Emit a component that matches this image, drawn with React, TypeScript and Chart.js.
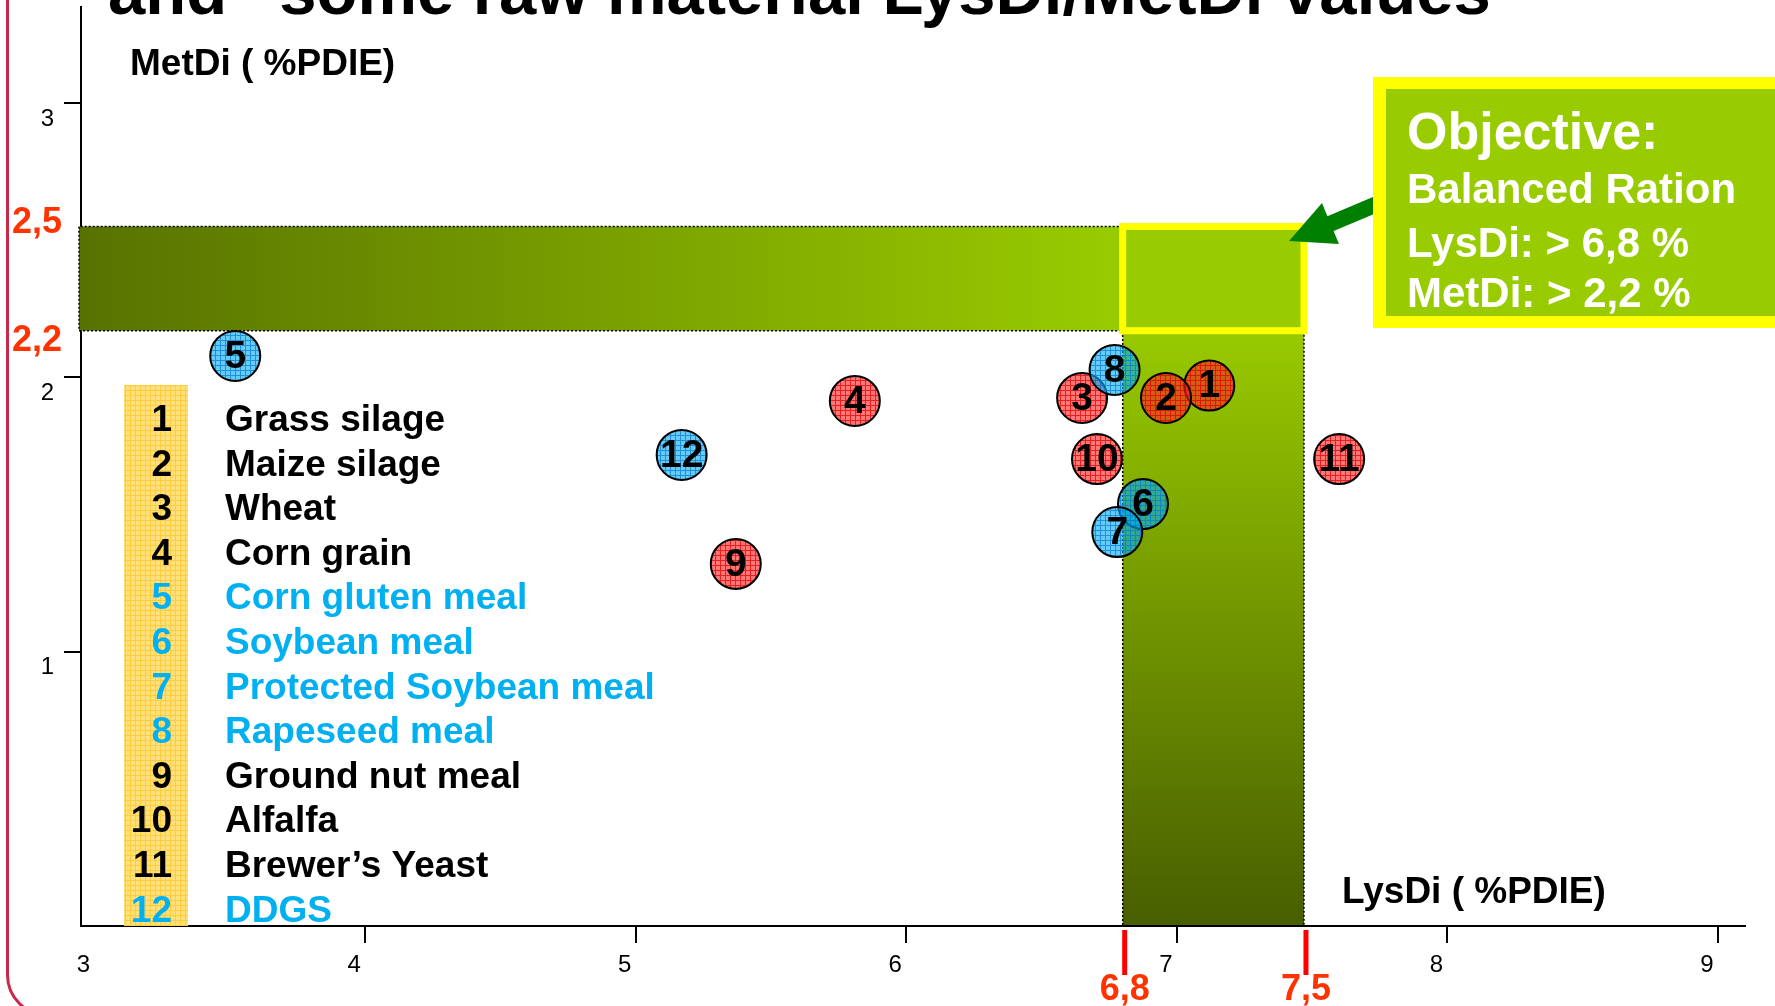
import React, { useEffect, useRef } from 'react';
import { Chart, registerables } from 'chart.js';

Chart.register(...registerables);

// ---------- data ----------
const feedIds = ['1', '2', '3', '4', '5', '6', '7', '8', '9', '10', '11', '12'];
const feedNames = [
  'Grass silage',
  'Maize silage',
  'Wheat',
  'Corn grain',
  'Corn gluten meal',
  'Soybean meal',
  'Protected Soybean meal',
  'Rapeseed meal',
  'Ground nut meal',
  'Alfalfa',
  'Brewer\u2019s Yeast',
  'DDGS',
];
const lysDi = [7.12, 6.96, 6.65, 5.81, 3.52, 6.875, 6.78, 6.77, 5.37, 6.705, 7.6, 5.17];
const metDi = [1.97, 1.925, 1.925, 1.914, 2.078, 1.538, 1.436, 2.027, 1.32, 1.702, 1.702, 1.717];
const feedGroup = ['red', 'red', 'red', 'red', 'blue', 'blue', 'blue', 'blue', 'red', 'red', 'red', 'blue'];

const xTicks = [3, 4, 5, 6, 7, 8, 9];
const yTicks = [1, 2, 3];

// objective zone (as drawn)
const lysBand = [6.8, 7.47];
const metBand = [2.17, 2.55];
const lysBandLabels = ['6,8', '7,5'];
const metBandLabels = ['2,2', '2,5'];

const titleText = 'and \u201Csome raw material LysDi/MetDi values';
const yTitle = 'MetDi ( %PDIE)';
const xTitle = 'LysDi ( %PDIE)';
const objectiveLines = ['Objective:', 'Balanced Ration', 'LysDi: > 6,8 %', 'MetDi: > 2,2 %'];

const FONT = '"Liberation Sans", Arial, Helvetica, sans-serif';
const BLUE_TEXT = '#00b0f0';

function makePattern(ctx: CanvasRenderingContext2D, fill: string, line: string, size = 5) {
  const c = document.createElement('canvas');
  c.width = size;
  c.height = size;
  const g = c.getContext('2d')!;
  g.fillStyle = fill;
  g.fillRect(0, 0, size, size);
  g.fillStyle = line;
  g.fillRect(0, 0, size, 1);
  g.fillRect(0, 1, 1, size - 1);
  return ctx.createPattern(c, 'repeat')!;
}

export default function App() {
  const canvasRef = useRef<HTMLCanvasElement | null>(null);

  useEffect(() => {
    document.body.style.margin = '0';
    const canvas = canvasRef.current!;
    const mainCtx = canvas.getContext('2d')!;
    const redPat = makePattern(mainCtx, 'rgba(255,30,30,0.6)', 'rgba(225,0,0,0.75)');
    const bluePat = makePattern(mainCtx, 'rgba(0,170,235,0.6)', 'rgba(0,120,215,0.7)');
    const stripePat = makePattern(mainCtx, '#ffe07e', '#ffcc3a');

    const decor = {
      id: 'decor',
      beforeDraw(chart: any) {
        const { ctx, width, height } = chart;
        ctx.save();
        ctx.fillStyle = '#ffffff';
        ctx.fillRect(0, 0, width, height);
        ctx.restore();
      },
      beforeDatasetsDraw(chart: any) {
        const { ctx, chartArea } = chart;
        const x = chart.scales.x;
        const y = chart.scales.y;
        const xl = x.getPixelForValue(lysBand[0]);
        const xr = x.getPixelForValue(lysBand[1]);
        const yt = y.getPixelForValue(metBand[1]);
        const yb = y.getPixelForValue(metBand[0]);
        const left = chartArea.left - 2;
        const bottom = chartArea.bottom - 1;
        ctx.save();
        // horizontal band
        const gh = ctx.createLinearGradient(left, 0, xl, 0);
        gh.addColorStop(0, 'rgb(88,114,0)');
        gh.addColorStop(1, 'rgb(153,204,0)');
        ctx.fillStyle = gh;
        ctx.fillRect(left, yt, xr - left, yb - yt);
        // vertical band
        const gv = ctx.createLinearGradient(0, yb, 0, bottom);
        gv.addColorStop(0, 'rgb(152,202,0)');
        gv.addColorStop(1, 'rgb(72,94,0)');
        ctx.fillStyle = gv;
        ctx.fillRect(xl, yb, xr - xl, bottom - yb);
        // dotted outlines
        ctx.strokeStyle = '#000';
        ctx.lineWidth = 1.5;
        ctx.setLineDash([2, 2]);
        ctx.beginPath();
        ctx.moveTo(xl, yt);
        ctx.lineTo(left, yt);
        ctx.lineTo(left, yb);
        ctx.lineTo(xl, yb);
        ctx.lineTo(xl, bottom);
        ctx.moveTo(xr, yb);
        ctx.lineTo(xr, bottom);
        ctx.stroke();
        ctx.setLineDash([]);
        // yellow target square
        ctx.strokeStyle = '#ffff00';
        ctx.lineWidth = 7;
        ctx.strokeRect(xl, yt, xr - xl, yb - yt);

        // legend stripe
        ctx.fillStyle = stripePat;
        ctx.fillRect(124, 385, 64, chartArea.bottom - 385);
        ctx.font = `bold 37px ${FONT}`;
        ctx.textBaseline = 'alphabetic';
        feedNames.forEach((name, i) => {
          const by = 431 + i * 44.6;
          ctx.fillStyle = feedGroup[i] === 'blue' ? BLUE_TEXT : '#000';
          ctx.textAlign = 'right';
          ctx.fillText(feedIds[i], 172, by);
          ctx.textAlign = 'left';
          ctx.fillText(name, 225, by);
        });
        ctx.restore();
      },
      afterDatasetsDraw(chart: any) {
        const { ctx } = chart;
        const meta = chart.getDatasetMeta(0);
        ctx.save();
        ctx.fillStyle = '#000';
        ctx.font = `bold 39px ${FONT}`;
        ctx.textAlign = 'center';
        ctx.textBaseline = 'middle';
        meta.data.forEach((pt: any, i: number) => {
          ctx.fillText(feedIds[i], pt.x, pt.y + 1);
        });
        ctx.restore();
      },
      afterDraw(chart: any) {
        const { ctx, chartArea } = chart;
        const x = chart.scales.x;
        const y = chart.scales.y;
        ctx.save();
        // title remnant
        ctx.fillStyle = '#000';
        ctx.font = `bold 67px ${FONT}`;
        ctx.textAlign = 'left';
        ctx.textBaseline = 'alphabetic';
        ctx.fillText(titleText, 108, 14);
        // axis titles
        ctx.font = `bold 37px ${FONT}`;
        ctx.fillText(yTitle, 130, 75);
        ctx.fillText(xTitle, 1342, 903);

        // red threshold labels on y
        ctx.fillStyle = '#ff3300';
        ctx.font = `bold 36px ${FONT}`;
        ctx.textAlign = 'center';
        ctx.textBaseline = 'middle';
        const yTop = y.getPixelForValue(metBand[1]);
        const yBot = y.getPixelForValue(metBand[0]);
        ctx.fillText(metBandLabels[1], 37, yTop - 3);
        ctx.fillText(metBandLabels[0], 37, yBot + 10);
        // red threshold marks on x
        lysBand.forEach((v, i) => {
          const px = x.getPixelForValue(v) + 2;
          ctx.fillStyle = '#ff0000';
          ctx.fillRect(px - 2.5, chartArea.bottom + 4, 5, 45);
          ctx.fillStyle = '#ff3300';
          ctx.fillText(lysBandLabels[i], px, 990);
        });

        // arrow
        ctx.fillStyle = '#008000';
        ctx.beginPath();
        ctx.moveTo(1289, 241);
        ctx.lineTo(1322, 203);
        ctx.lineTo(1327.4, 216.2);
        ctx.lineTo(1380, 194);
        ctx.lineTo(1386, 209);
        ctx.lineTo(1333.6, 231);
        ctx.lineTo(1339, 244);
        ctx.closePath();
        ctx.fill();

        // objective box
        ctx.fillStyle = '#ffff00';
        ctx.fillRect(1373, 77, 430, 251);
        ctx.fillStyle = '#99cc00';
        ctx.fillRect(1386, 89, 430, 227);
        ctx.fillStyle = '#ffffff';
        ctx.textAlign = 'left';
        ctx.textBaseline = 'alphabetic';
        ctx.font = `bold 52px ${FONT}`;
        ctx.fillText(objectiveLines[0], 1407, 149);
        ctx.font = `bold 42px ${FONT}`;
        ctx.fillText(objectiveLines[1], 1407, 203);
        ctx.fillText(objectiveLines[2], 1407, 257);
        ctx.fillText(objectiveLines[3], 1407, 307);

        // slide frame
        ctx.strokeStyle = '#c8284a';
        ctx.lineWidth = 3;
        ctx.beginPath();
        ctx.roundRect(7.5, -80, 1900, 1095, 40);
        ctx.stroke();
        ctx.restore();
      },
    };

    const chart = new Chart(canvas, {
      type: 'scatter',
      data: {
        datasets: [
          {
            data: lysDi.map((v, i) => ({ x: v, y: metDi[i] })),
            pointRadius: 25,
            pointHoverRadius: 25,
            pointBorderWidth: 2,
            pointBorderColor: '#000',
            pointBackgroundColor: feedGroup.map((g) => (g === 'blue' ? bluePat : redPat)),
            showLine: false,
          } as any,
        ],
      },
      options: {
        responsive: false,
        maintainAspectRatio: false,
        devicePixelRatio: 1,
        animation: false,
        events: [],
        layout: { autoPadding: false, padding: { top: 7, right: 30, left: 0, bottom: 0 } },
        plugins: { legend: { display: false }, tooltip: { enabled: false } },
        scales: {
          x: {
            type: 'linear',
            min: 2.95,
            max: 9.1,
            afterBuildTicks: (s: any) => {
              s.ticks = xTicks.map((v) => ({ value: v }));
            },
            afterFit: (s: any) => {
              s.height = 80;
              s.paddingLeft = 0;
              s.paddingRight = 0;
              s.paddingTop = 0;
              s.paddingBottom = 0;
            },
            grid: {
              display: true,
              drawOnChartArea: false,
              drawTicks: true,
              tickLength: 17,
              lineWidth: 2,
              color: '#000',
              tickColor: (c: any) => (c.tick && c.tick.value === 3 ? 'rgba(0,0,0,0)' : '#000'),
            },
            border: { display: true, color: '#000', width: 2 },
            ticks: {
              color: '#000',
              font: { size: 24, family: FONT },
              labelOffset: -11,
              padding: 8,
              maxRotation: 0,
              autoSkip: false,
              callback: (v: any) => String(v),
            },
          },
          y: {
            type: 'linear',
            min: 0,
            max: 3.35,
            afterBuildTicks: (s: any) => {
              s.ticks = yTicks.map((v) => ({ value: v }));
            },
            afterFit: (s: any) => {
              s.width = 81;
              s.paddingLeft = 0;
              s.paddingRight = 0;
              s.paddingTop = 0;
              s.paddingBottom = 0;
            },
            grid: {
              display: true,
              drawOnChartArea: false,
              drawTicks: true,
              tickLength: 17,
              lineWidth: 2,
              color: '#000',
            },
            border: { display: true, color: '#000', width: 2 },
            ticks: {
              color: '#000',
              font: { size: 24, family: FONT },
              labelOffset: 16,
              padding: 10,
              autoSkip: false,
              callback: (v: any) => String(v),
            },
          },
        },
      },
      plugins: [decor],
    } as any);

    return () => {
      chart.destroy();
    };
  }, []);

  return (
    <canvas
      ref={canvasRef}
      width={1775}
      height={1006}
      style={{ position: 'fixed', left: 0, top: 0, width: 1775, height: 1006, display: 'block' }}
    />
  );
}
